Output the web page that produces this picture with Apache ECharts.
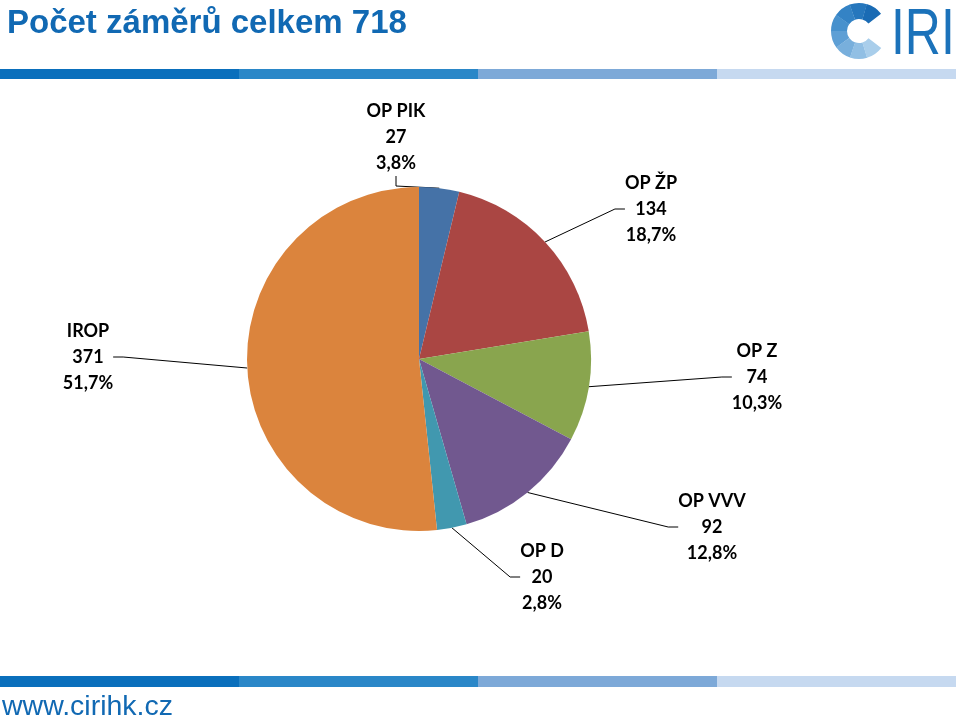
<!DOCTYPE html>
<html>
<head>
<meta charset="utf-8">
<script src="https://cdn.jsdelivr.net/npm/echarts@6/dist/echarts.min.js"></script>
<style>
html,body{margin:0;padding:0;background:#fff;}
#chart{width:960px;height:726px;}
</style>
</head>
<body>
<div id="chart"></div>
<script>
var categories = ['OP PIK', 'OP ŽP', 'OP Z', 'OP VVV', 'OP D', 'IROP'];
var values = [27, 134, 74, 92, 20, 371];
var titleText = 'Počet záměrů celkem 718';
var footerText = 'www.cirihk.cz';

var sliceColors = ['#4572A7', '#AA4643', '#89A54E', '#71588F', '#4198AF', '#DB843D'];
var labelPos = [
  {x: 396, y: 137},
  {x: 651, y: 209},
  {x: 757, y: 377},
  {x: 712, y: 527},
  {x: 542, y: 577},
  {x: 88, y: 357}
];

var chart = echarts.init(document.getElementById('chart'));

var barColors = ['#0A6FBC', '#2A87C8', '#7DA9D8', '#C6D9F0'];
var graphics = [];
function addBar(y, h) {
  for (var i = 0; i < 4; i++) {
    graphics.push({type: 'rect', shape: {x: i * 239, y: y, width: 239, height: h}, style: {fill: barColors[i]}, silent: true});
  }
}
addBar(69, 10);
addBar(676, 11);

// logo C ring
var ringColors = ['#1A6BB4', '#2677BD', '#3483C5', '#4791CD', '#5E9FD5', '#78AFDC', '#91BFE4', '#A9CEEB'];
var openA = 38 * Math.PI / 180;
var startA = -openA;
var span = (2 * Math.PI - 2 * openA) / ringColors.length;
for (var k = 0; k < ringColors.length; k++) {
  var a0 = startA - k * span;
  graphics.push({
    type: 'sector',
    shape: {cx: 859, cy: 31, r: 28, r0: 12, startAngle: a0 - span - 0.01, endAngle: a0, clockwise: true},
    style: {fill: ringColors[k]}, silent: true
  });
}
graphics.push({type: 'text', x: 891, y: 68, scaleX: 0.78, style: {text: 'IRI', fill: '#1B72BA', font: '64px "Liberation Sans", Arial, sans-serif', verticalAlign: 'bottom', textVerticalAlign: 'bottom'}, silent: true});

graphics.push({type: 'text', x: 7, y: 40, style: {text: titleText, fill: '#1169B3', font: 'bold 33px "Liberation Sans", Arial, sans-serif', verticalAlign: 'bottom', textVerticalAlign: 'bottom'}, silent: true});
graphics.push({type: 'text', x: 2, y: 722, style: {text: footerText, fill: '#1169B3', font: '28.5px "Liberation Sans", Arial, sans-serif', verticalAlign: 'bottom', textVerticalAlign: 'bottom'}, silent: true});

chart.setOption({
  animation: false,
  backgroundColor: '#ffffff',
  graphic: graphics,
  series: [{
    type: 'pie',
    center: [419, 359],
    radius: 172,
    startAngle: 90,
    clockwise: true,
    data: categories.map(function (c, i) {
      return {name: c, value: values[i], itemStyle: {color: sliceColors[i]}};
    }),
    itemStyle: {borderWidth: 0},
    label: {
      show: true,
      position: 'outside',
      formatter: function (p) {
        return p.name + '\n' + p.value + '\n' + p.percent.toFixed(1).replace('.', ',') + '%';
      },
      color: '#000',
      fontFamily: 'Lato, "Open Sans", sans-serif',
      fontWeight: 'bold',
      fontSize: 18,
      lineHeight: 26,
      align: 'center'
    },
    labelLine: {show: true, lineStyle: {color: '#000', width: 1}, length: 15, length2: 10},
    labelLayout: function (params) {
      var p = labelPos[params.dataIndex];
      return {x: p.x, y: p.y, align: 'center', verticalAlign: 'middle'};
    },
    emphasis: {disabled: true}
  }]
});
</script>
</body>
</html>
